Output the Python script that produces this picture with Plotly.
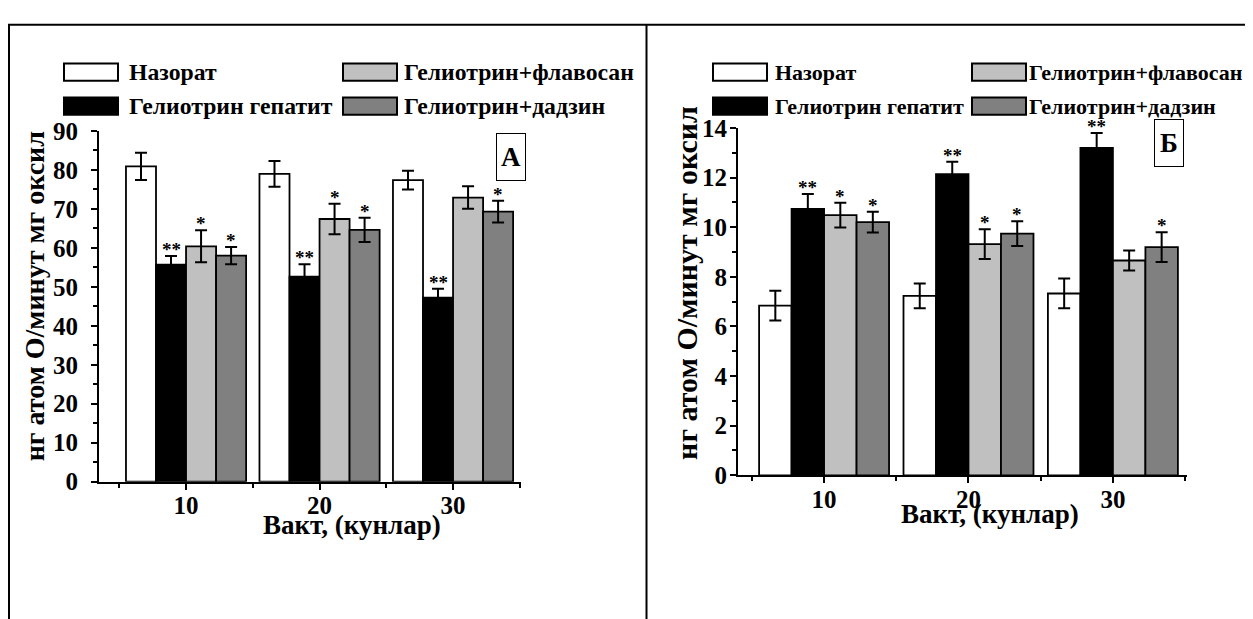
import plotly.graph_objects as go

# ---------------- data ----------------
days = [10, 20, 30]
series_names = ["Назорат", "Гелиотрин гепатит", "Гелиотрин+флавосан", "Гелиотрин+дадзин"]
series_colors = ["#ffffff", "#000000", "#c0c0c0", "#808080"]

# Panel A
a_control = [80.9, 79.0, 77.4]
a_hepatitis = [55.7, 52.6, 47.2]
a_flavosan = [60.4, 67.4, 72.9]
a_daidzin = [58.0, 64.6, 69.3]
a_control_err = [3.5, 3.3, 2.4]
a_hepatitis_err = [2.2, 3.2, 2.3]
a_flavosan_err = [4.1, 3.9, 2.9]
a_daidzin_err = [2.2, 3.1, 2.8]
a_control_sig = ["", "", ""]
a_hepatitis_sig = ["**", "**", "**"]
a_flavosan_sig = ["*", "*", ""]
a_daidzin_sig = ["*", "*", "*"]

# Panel B
b_control = [6.84, 7.23, 7.33]
b_hepatitis = [10.74, 12.14, 13.2]
b_flavosan = [10.49, 9.32, 8.66]
b_daidzin = [10.21, 9.74, 9.2]
b_control_err = [0.6, 0.5, 0.6]
b_hepatitis_err = [0.6, 0.5, 0.6]
b_flavosan_err = [0.5, 0.6, 0.4]
b_daidzin_err = [0.42, 0.5, 0.6]
b_control_sig = ["", "", ""]
b_hepatitis_sig = ["**", "**", "**"]
b_flavosan_sig = ["*", "*", ""]
b_daidzin_sig = ["*", "*", "*"]

x_title = "Вакт, (кунлар)"
y_title = "нг атом О/минут мг оксил"
panel_labels = ["А", "Б"]

# ---------------- layout helpers ----------------
# The page body keeps the browser's default 8px margin, so the figure is
# sized to the remaining space and screen pixels are mapped accordingly.
OFF = 8
W, H = 1253 - OFF, 619 - OFF
FONT = "Liberation Serif"
BARGAP = 0.1


def fx(p):
    return (p - OFF) / W


def fy(p):
    return 1 - (p - OFF) / H


panels = [
    dict(vals=[a_control, a_hepatitis, a_flavosan, a_daidzin],
         errs=[a_control_err, a_hepatitis_err, a_flavosan_err, a_daidzin_err],
         sigs=[a_control_sig, a_hepatitis_sig, a_flavosan_sig, a_daidzin_sig],
         xa="x", ya="y"),
    dict(vals=[b_control, b_hepatitis, b_flavosan, b_daidzin],
         errs=[b_control_err, b_hepatitis_err, b_flavosan_err, b_daidzin_err],
         sigs=[b_control_sig, b_hepatitis_sig, b_flavosan_sig, b_daidzin_sig],
         xa="x2", ya="y2"),
]

fig = go.Figure()
annotations = []
shapes = []

spacing = days[1] - days[0]
n_series = len(series_names)
bar_w = spacing * (1 - BARGAP) / n_series

for p in panels:
    for i, name in enumerate(series_names):
        fig.add_trace(go.Bar(
            x=days, y=p["vals"][i], name=name,
            marker=dict(color=series_colors[i], line=dict(color="black", width=1.8)),
            error_y=dict(type="data", array=p["errs"][i], color="black",
                         thickness=2, width=6),
            xaxis=p["xa"], yaxis=p["ya"], showlegend=False,
        ))
        offset = (i - (n_series - 1) / 2) * bar_w
        for d, v, e, s in zip(days, p["vals"][i], p["errs"][i], p["sigs"][i]):
            if s:
                annotations.append(dict(
                    x=d + offset, y=v + e, xref=p["xa"], yref=p["ya"],
                    text=s, showarrow=False, yanchor="bottom", xanchor="center",
                    yshift=-6, font=dict(family=FONT, size=19, color="black",
                                         weight="bold")))

tickfont = dict(family=FONT, size=25, color="black", weight="bold")
common_x = dict(showline=True, linecolor="black", linewidth=2, ticks="outside",
                ticklen=6, tickwidth=2, tickcolor="black", tickvals=days,
                showgrid=False, zeroline=False, tickfont=tickfont,
                minor=dict(tickvals=[5, 15, 25, 35], ticks="outside", ticklen=4,
                           tickwidth=1.5, tickcolor="black"))
common_y = dict(showline=True, linecolor="black", linewidth=2, ticks="outside",
                ticklen=6, tickwidth=2, tickcolor="black", showgrid=False,
                zeroline=False, tickfont=tickfont)

fig.update_layout(
    width=W, height=H, autosize=False,
    margin=dict(l=0, r=0, t=0, b=0),
    paper_bgcolor="white", plot_bgcolor="white",
    barmode="group", bargap=BARGAP, bargroupgap=0,
    showlegend=False,
    font=dict(family=FONT, color="black", weight="bold"),
    xaxis=dict(domain=[fx(99), fx(521)], range=[3.48, 35.09], anchor="y",
               ticklabelstandoff=-6, **common_x),
    yaxis=dict(domain=[fy(490), fy(123)], range=[0, 90], anchor="x",
               tickvals=[0, 10, 20, 30, 40, 50, 60, 70, 80, 90],
               minor=dict(dtick=5, ticks="outside", ticklen=4, tickwidth=1.5,
                          tickcolor="black"),
               ticklabelstandoff=8, **common_y),
    xaxis2=dict(domain=[fx(738), fx(1187)], range=[4.04, 35.13], anchor="y2",
                ticklabelstandoff=-5, **common_x),
    yaxis2=dict(domain=[fy(483.3), fy(120)], range=[0, 14], anchor="x2",
                tickvals=[0, 2, 4, 6, 8, 10, 12, 14],
                minor=dict(dtick=1, ticks="outside", ticklen=4, tickwidth=1.5,
                           tickcolor="black"),
                ticklabelstandoff=-2, **common_y),
)

# ---------------- frame (table cells) ----------------
frame = dict(color="black", width=2)
shapes.append(dict(type="line", xref="paper", yref="paper",
                   x0=fx(8), x1=fx(1251), y0=fy(12), y1=fy(12), line=frame))
for xp in [9, 646.5, 1251]:
    shapes.append(dict(type="line", xref="paper", yref="paper",
                       x0=fx(xp), x1=fx(xp), y0=fy(12), y1=fy(640), line=frame))

# ---------------- manual legends ----------------
legend_layouts = [
    dict(swatch_x=[64, 343], text_x=[127, 402], size=23.7),
    dict(swatch_x=[713, 972], text_x=[773, 1027], size=22),
]
row_y = [61.5, 97]
sw_w, sw_h = 54, 18
for lg in legend_layouts:
    for i, name in enumerate(series_names):
        col, row = i // 2, i % 2
        x0 = lg["swatch_x"][col]
        yc = row_y[row]
        shapes.append(dict(type="rect", xref="paper", yref="paper",
                           x0=fx(x0), x1=fx(x0 + sw_w),
                           y0=fy(yc - sw_h / 2), y1=fy(yc + sw_h / 2),
                           fillcolor=series_colors[i],
                           line=dict(color="black", width=2)))
        annotations.append(dict(x=fx(lg["text_x"][col]), y=fy(yc), xref="paper",
                                yref="paper", text=name, showarrow=False,
                                xanchor="left", yanchor="middle",
                                font=dict(family=FONT, size=lg["size"],
                                          color="black", weight="bold")))

# ---------------- axis titles and panel labels ----------------
for (xc, yc) in [(352, 535), (990, 524)]:
    annotations.append(dict(x=fx(xc), y=fy(yc), xref="paper", yref="paper",
                            text=x_title, showarrow=False, xanchor="center",
                            yanchor="middle",
                            font=dict(family=FONT, size=27, color="black",
                                      weight="bold")))
for (xc, yc, sz) in [(34, 296, 28), (687, 282, 30)]:
    annotations.append(dict(x=fx(xc), y=fy(yc), xref="paper", yref="paper",
                            text=y_title, showarrow=False, textangle=-90,
                            xanchor="center", yanchor="middle",
                            font=dict(family=FONT, size=sz, color="black",
                                      weight="bold")))
for lab, (xc, yc) in zip(panel_labels, [(511, 150), (1169, 136)]):
    annotations.append(dict(x=fx(xc), y=fy(yc), xref="paper", yref="paper",
                            text=lab, showarrow=False, xanchor="center",
                            yanchor="middle", width=26, height=44, borderpad=1,
                            bordercolor="black", borderwidth=1, bgcolor="white",
                            font=dict(family=FONT, size=27, color="black",
                                      weight="bold")))

fig.update_layout(annotations=annotations, shapes=shapes)
fig.write_html("out.html")
